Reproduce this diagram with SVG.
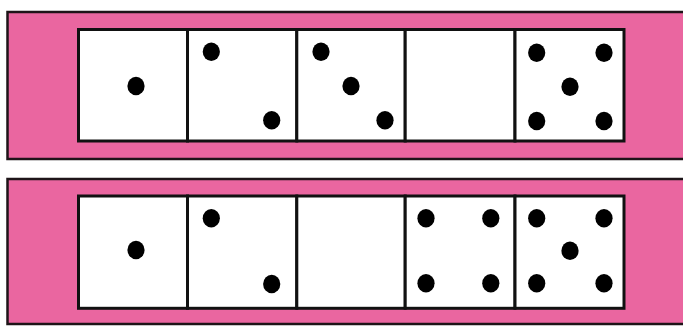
<svg xmlns="http://www.w3.org/2000/svg" width="683" height="327" viewBox="0 0 683 327">
<style>
.band{fill:#ea66a0;stroke:#1e1418;stroke-width:2.5}
.cell{fill:#ffffff;stroke:#111111;stroke-width:3}
.pip{fill:#000000}
</style>
<defs>
<ellipse id="pip" class="pip" rx="8.6" ry="9.2"/>
</defs>
<rect width="683" height="327" fill="#ffffff"/>
<g id="band-top">
<rect class="band" x="7.5" y="12" width="690" height="147"/>
<g id="top-1"><rect class="cell" x="78.5" y="29.5" width="109" height="111.5"/><use href="#pip" x="136" y="86"/></g>
<g id="top-2"><rect class="cell" x="187.5" y="29.5" width="109.3" height="111.5"/><use href="#pip" x="211.3" y="51.7"/><use href="#pip" x="271.7" y="120.3"/></g>
<g id="top-3"><rect class="cell" x="296.8" y="29.5" width="108.4" height="111.5"/><use href="#pip" x="321" y="51.7"/><use href="#pip" x="351" y="86"/><use href="#pip" x="385" y="120.3"/></g>
<g id="top-4"><rect class="cell" x="405.2" y="29.5" width="109.8" height="111.5"/></g>
<g id="top-5"><rect class="cell" x="515" y="29.5" width="109" height="111.5"/><use href="#pip" x="536.7" y="52.7"/><use href="#pip" x="604" y="52.7"/><use href="#pip" x="570" y="86.7"/><use href="#pip" x="536.7" y="121"/><use href="#pip" x="604" y="121"/></g>
</g>
<g id="band-bottom">
<rect class="band" x="7.5" y="179" width="690" height="145"/>
<g id="bottom-1"><rect class="cell" x="78.5" y="196" width="109" height="112.3"/><use href="#pip" x="136" y="250"/></g>
<g id="bottom-2"><rect class="cell" x="187.5" y="196" width="109.3" height="112.3"/><use href="#pip" x="211.3" y="218.3"/><use href="#pip" x="271.7" y="284"/></g>
<g id="bottom-3"><rect class="cell" x="296.8" y="196" width="108.4" height="112.3"/></g>
<g id="bottom-4"><rect class="cell" x="405.2" y="196" width="109.8" height="112.3"/><use href="#pip" x="426" y="218.3"/><use href="#pip" x="490.8" y="218.3"/><use href="#pip" x="426" y="283.3"/><use href="#pip" x="490.8" y="283.3"/></g>
<g id="bottom-5"><rect class="cell" x="515" y="196" width="109" height="112.3"/><use href="#pip" x="536.7" y="218.3"/><use href="#pip" x="604" y="218.3"/><use href="#pip" x="570" y="250.7"/><use href="#pip" x="536.7" y="283.3"/><use href="#pip" x="604" y="283.3"/></g>
</g>
</svg>
